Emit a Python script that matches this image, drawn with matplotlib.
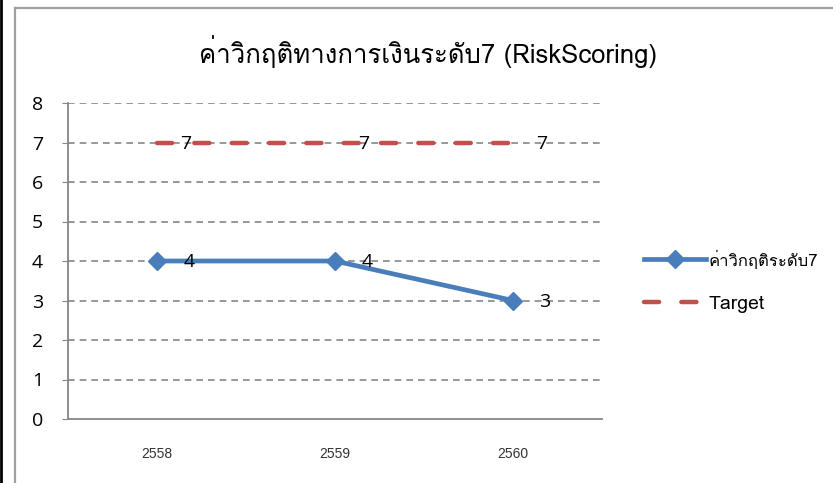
import matplotlib
matplotlib.use('Agg')
import matplotlib.pyplot as plt
from matplotlib import font_manager
from matplotlib.ft2font import FT2Font
from matplotlib.lines import Line2D

years = ['2558', '2559', '2560']
risk = [4, 4, 3]
target = [7, 7, 7]
title = 'ค่าวิกฤติทางการเงินระดับ7 (RiskScoring)'
risk_name = 'ค่าวิกฤติระดับ7'
target_name = 'Target'

# find a font that has Thai glyphs
thai_font = None
for f in font_manager.fontManager.ttflist:
    try:
        if 0x0E01 in FT2Font(f.fname).get_charmap():
            thai_font = f.name
            break
    except Exception:
        pass
fams = ([thai_font] if thai_font else []) + ['DejaVu Sans']
plt.rcParams['font.family'] = fams
num_font = ['Open Sans'] + fams

W, H = 833, 483
fig = plt.figure(figsize=(W / 100, H / 100), dpi=100)
ax = fig.add_axes([68 / W, 1 - 419 / H, (602 - 68) / W, (419 - 103) / H])

x = list(range(len(years)))
ax.plot(x, risk, color='#4A7EBB', lw=3.4, marker='D', ms=9, label=risk_name, zorder=4)
ax.plot(x, target, color='#C0504D', lw=3.2, dashes=(3.4, 5.0), dash_capstyle='round',
        label=target_name, zorder=3)

for xi, v in zip(x, risk):
    ax.annotate(str(v), (xi, v), xytext=(19, -1), textcoords='offset points',
                ha='left', va='center', fontsize=14, family=num_font, zorder=5)
for xi, v in zip(x, target):
    ax.annotate(str(v), (xi, v), xytext=(17, -1), textcoords='offset points',
                ha='left', va='center', fontsize=14, family=num_font, zorder=5)

ax.set_xlim(-0.5, 2.5)
ax.set_ylim(0, 8)
ax.set_yticks(range(9))
ax.set_xticks(x)
ax.set_xticklabels(years, fontsize=10, family='Liberation Sans', color='#333333')
for lbl in ax.get_yticklabels():
    lbl.set_fontsize(14)
    lbl.set_family(num_font)
ax.tick_params(axis='y', length=4, color='#868686', pad=14)
ax.tick_params(axis='x', length=0, pad=20)
for y in range(1, 9):
    ax.axhline(y, color='#868686', lw=1.2, dashes=(4, 3), zorder=1)
for s in ['top', 'right']:
    ax.spines[s].set_visible(False)
for s in ['left', 'bottom']:
    ax.spines[s].set_color('#868686')
    ax.spines[s].set_linewidth(1.3)

fig.text(428 / W, 1 - 52 / H, title, ha='center', va='center', fontsize=18.5)

leg = fig.legend(loc='upper left', bbox_to_anchor=(626 / W, 1 - 233 / H), frameon=False,
                 fontsize=14, handlelength=3.2, labelspacing=1.3, handletextpad=0.15)
leg.get_texts()[0].set_fontsize(12)

# chart frame
fig.add_artist(Line2D([15 / W, 15 / W], [0, 1 - 8 / H], color='#A0A0A0', lw=1.6, transform=fig.transFigure))
fig.add_artist(Line2D([15 / W, 1], [1 - 8 / H, 1 - 8 / H], color='#A0A0A0', lw=1.6, transform=fig.transFigure))
fig.add_artist(Line2D([1 / W, 1 / W], [0, 1], color='black', lw=2, transform=fig.transFigure))

fig.savefig('out.png', dpi=100)
